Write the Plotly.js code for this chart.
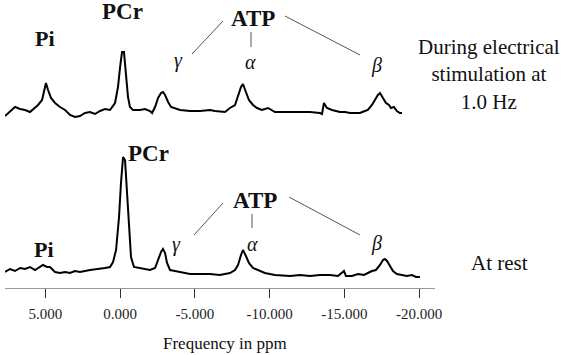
<!DOCTYPE html>
<html>
<head>
<meta charset="utf-8">
<script src="https://cdn.plot.ly/plotly-3.0.1.min.js"></script>
<style>html,body{margin:0;padding:0;background:#fff;}#chart{width:566px;height:355px;}</style>
</head>
<body>
<div id="chart"></div>
<script>
// Chemical shift (ppm) and signal intensity (a.u., relative to baseline)
const stimPpm = [7.70,7.36,7.03,6.69,6.36,6.03,5.69,5.49,5.22,5.09,4.96,4.82,4.62,4.35,4.02,3.68,3.35,3.02,2.68,2.35,2.01,1.68,1.34,1.01,0.67,0.34,0.14,0.00,-0.13,-0.26,-0.40,-0.53,-0.66,-0.86,-1.33,-1.67,-2.00,-2.14,-2.34,-2.54,-2.74,-2.87,-3.01,-3.21,-3.41,-3.67,-4.01,-4.68,-5.35,-6.02,-6.35,-7.02,-7.35,-7.69,-7.89,-8.09,-8.22,-8.42,-8.62,-8.89,-9.16,-9.49,-9.90,-10.36,-11.03,-12.04,-12.70,-13.37,-13.51,-13.64,-13.84,-14.18,-14.71,-15.05,-15.38,-15.71,-16.05,-16.38,-16.58,-16.85,-17.05,-17.25,-17.39,-17.59,-17.79,-17.99,-18.12,-18.32,-18.52,-18.72,-18.86];
const stimIntensity = [-5,0,4,2,1,-1,3,6,11,21,28,21,13,8,4,1,-4,-6,-5,-2,-1,-3,0,2,1,8,24,44,59,59,38,14,4,1,1,2,0,-2,4,13,18,19,16,9,4,3,1,0,0,1,0,-1,3,6,14,24,27,18,11,6,3,1,3,-1,-1,-1,-1,-2,-3,8,3,1,-1,-1,-2,-2,-2,0,1,6,11,16,18,13,8,6,3,4,0,-2,-2];

const restPpm = [7.70,7.36,7.03,6.69,6.36,6.03,5.69,5.36,5.16,4.89,4.69,4.35,4.02,3.68,3.35,3.02,2.68,2.01,1.34,1.01,0.67,0.47,0.27,0.07,-0.06,-0.20,-0.33,-0.46,-0.60,-0.73,-0.93,-1.33,-2.00,-2.34,-2.54,-2.74,-2.87,-3.01,-3.14,-3.34,-3.67,-4.01,-4.34,-4.68,-5.35,-6.02,-6.68,-7.35,-7.69,-7.89,-8.09,-8.22,-8.42,-8.62,-8.89,-9.23,-9.69,-10.36,-11.37,-12.04,-12.70,-13.37,-14.04,-14.58,-14.85,-14.98,-15.11,-15.51,-15.92,-16.32,-16.58,-16.85,-17.12,-17.39,-17.59,-17.72,-17.86,-18.06,-18.26,-18.52,-18.86,-19.19,-19.53,-19.80,-20.06];
const restIntensity = [-2,1,-1,2,1,3,0,3,5,3,3,-2,-3,-2,-3,-1,-2,0,1,2,3,8,20,53,87,113,110,77,37,13,3,2,0,2,10,18,21,17,7,0,-1,-2,-3,-4,-4,-4,-5,-3,0,5,15,20,14,7,2,0,-3,-5,-6,-5,-6,-5,-5,-6,-3,-1,-6,-6,-4,-5,-3,-1,0,5,10,11,9,4,-1,-4,-5,-6,-5,-7,-7];

const tickVals = [5, 0, -5, -10, -15, -20];
const tickLabels = ['5.000', '0.000', '-5.000', '-10.000', '-15.000', '-20.000'];

// layout geometry
const W = 566, H = 355, L = 5, R = 131, T = 0, B = 67;
const PW = W - L - R, PH = H - T - B;
const stimOffset = 177, restOffset = 18;

const px = x => (x - L) / PW;
const py = y => (PH + T - y) / PH;

const serif = '"Liberation Serif", "Times New Roman", serif';
function ann(text, x, y, size, extra) {
  return Object.assign({
    text: text, xref: 'paper', yref: 'paper', x: px(x), y: py(y),
    xanchor: 'center', yanchor: 'middle', showarrow: false,
    font: {family: serif, size: size, color: '#111'}
  }, extra || {});
}
function seg(x0, y0, x1, y1) {
  return {type: 'line', xref: 'paper', yref: 'paper', x0: px(x0), y0: py(y0), x1: px(x1), y1: py(y1),
    line: {color: '#555', width: 1}};
}

const traces = [
  {x: stimPpm, y: stimIntensity.map(v => v + stimOffset), mode: 'lines', line: {color: '#000', width: 2}, hoverinfo: 'skip'},
  {x: restPpm, y: restIntensity.map(v => v + restOffset), mode: 'lines', line: {color: '#000', width: 2}, hoverinfo: 'skip'}
];

const layout = {
  width: W, height: H,
  margin: {l: L, r: R, t: T, b: B, pad: 0},
  paper_bgcolor: '#fff', plot_bgcolor: '#fff',
  showlegend: false,
  xaxis: {
    range: [7.70, -21.07], tickvals: tickVals, ticktext: tickLabels,
    ticks: 'outside', ticklen: 9, tickwidth: 1, tickcolor: '#333',
    showline: true, linecolor: '#999', linewidth: 1,
    showgrid: false, zeroline: false, ticklabelstandoff: 3,
    tickfont: {family: serif, size: 15, color: '#222'}
  },
  yaxis: {range: [0, PH], visible: false, showgrid: false, zeroline: false},
  annotations: [
    ann('<b>Pi</b>', 45, 39, 22),
    ann('<b>PCr</b>', 122, 12, 23),
    ann('<b>ATP</b>', 253, 18, 23),
    ann('<i>γ</i>', 178, 60, 20),
    ann('<i>α</i>', 250, 62, 20),
    ann('<i>β</i>', 376, 65, 20),
    ann('During electrical<br>stimulation at<br>1.0 Hz', 489, 75, 21),
    ann('<b>PCr</b>', 148, 153, 23),
    ann('<b>ATP</b>', 255, 200, 23),
    ann('<b>Pi</b>', 44, 249, 22),
    ann('<i>γ</i>', 176, 244, 20),
    ann('<i>α</i>', 252, 244, 20),
    ann('<i>β</i>', 376, 243, 20),
    ann('At rest', 499, 263, 21),
    ann('Frequency in ppm', 225, 343, 17)
  ],
  shapes: [
    seg(223, 21, 192, 54), seg(251, 32, 251, 47), seg(285, 16, 360, 55),
    seg(223, 203, 194, 235), seg(252, 214, 252, 228), seg(289, 197, 360, 235)
  ]
};

Plotly.newPlot('chart', traces, layout, {staticPlot: true, displayModeBar: false});
</script>
</body>
</html>
